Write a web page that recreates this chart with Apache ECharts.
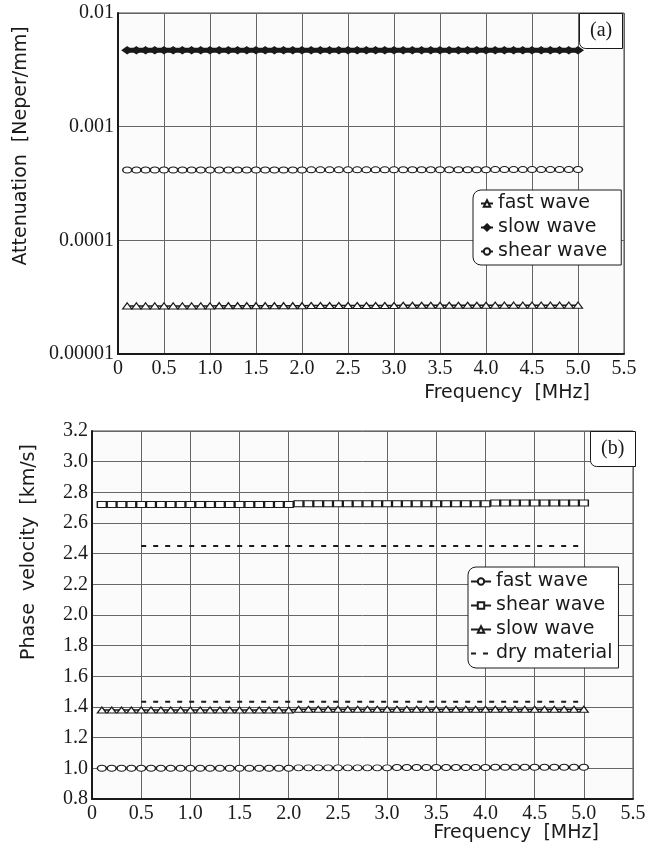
<!DOCTYPE html>
<html>
<head>
<meta charset="utf-8">
<script src="https://cdn.jsdelivr.net/npm/echarts@6/dist/echarts.min.js"></script>
<style>
  html, body { margin: 0; padding: 0; background: #fff; }
  #chart { width: 649px; height: 852px; }
</style>
</head>
<body>
<div id="chart"></div>
<script>
// frequency samples [MHz]
const freq = [0.1, 0.2, 0.3, 0.4, 0.5, 0.6, 0.7, 0.8, 0.9, 1.0,
  1.1, 1.2, 1.3, 1.4, 1.5, 1.6, 1.7, 1.8, 1.9, 2.0,
  2.1, 2.2, 2.3, 2.4, 2.5, 2.6, 2.7, 2.8, 2.9, 3.0,
  3.1, 3.2, 3.3, 3.4, 3.5, 3.6, 3.7, 3.8, 3.9, 4.0,
  4.1, 4.2, 4.3, 4.4, 4.5, 4.6, 4.7, 4.8, 4.9, 5.0]

// (a) attenuation [Neper/mm]
const slowAtt = [0.0047, 0.0047, 0.0047, 0.0047, 0.0047, 0.0047, 0.0047, 0.0047, 0.0047, 0.0047,
  0.0047, 0.0047, 0.0047, 0.0047, 0.0047, 0.0047, 0.0047, 0.0047, 0.0047, 0.0047,
  0.0047, 0.0047, 0.0047, 0.0047, 0.0047, 0.0047, 0.0047, 0.0047, 0.0047, 0.0047,
  0.0047, 0.0047, 0.0047, 0.0047, 0.0047, 0.0047, 0.0047, 0.0047, 0.0047, 0.0047,
  0.0047, 0.0047, 0.0047, 0.0047, 0.0047, 0.0047, 0.0047, 0.0047, 0.0047, 0.0047]
const shearAtt = [0.000415, 0.000415, 0.000415, 0.000415, 0.000415, 0.000415, 0.000415, 0.000415, 0.000415, 0.000415,
  0.000416, 0.000416, 0.000416, 0.000416, 0.000416, 0.000416, 0.000416, 0.000416, 0.000416, 0.000416,
  0.000417, 0.000417, 0.000417, 0.000417, 0.000417, 0.000417, 0.000417, 0.000417, 0.000417, 0.000417,
  0.000418, 0.000418, 0.000418, 0.000418, 0.000418, 0.000418, 0.000418, 0.000418, 0.000418, 0.000418,
  0.000419, 0.000419, 0.000419, 0.000419, 0.000419, 0.000419, 0.000419, 0.000419, 0.000419, 0.00042]
const fastAtt = [0.0000265, 0.0000265, 0.0000265, 0.0000265, 0.0000265, 0.0000265, 0.0000265, 0.0000265, 0.0000265, 0.0000265,
  0.0000266, 0.0000266, 0.0000266, 0.0000266, 0.0000266, 0.0000266, 0.0000266, 0.0000266, 0.0000266, 0.0000266,
  0.0000267, 0.0000267, 0.0000267, 0.0000267, 0.0000267, 0.0000267, 0.0000267, 0.0000267, 0.0000267, 0.0000267,
  0.0000268, 0.0000268, 0.0000268, 0.0000268, 0.0000268, 0.0000268, 0.0000268, 0.0000268, 0.0000268, 0.0000268,
  0.0000269, 0.0000269, 0.0000269, 0.0000269, 0.0000269, 0.0000269, 0.0000269, 0.0000269, 0.0000269, 0.0000269]

// (b) phase velocity [km/s]
const shearVel = [2.72, 2.72, 2.72, 2.72, 2.72, 2.72, 2.72, 2.72, 2.72, 2.72,
  2.72, 2.72, 2.72, 2.72, 2.72, 2.72, 2.72, 2.72, 2.72, 2.72,
  2.725, 2.725, 2.725, 2.725, 2.725, 2.725, 2.725, 2.725, 2.725, 2.725,
  2.725, 2.725, 2.725, 2.725, 2.725, 2.725, 2.725, 2.725, 2.725, 2.725,
  2.73, 2.73, 2.73, 2.73, 2.73, 2.73, 2.73, 2.73, 2.73, 2.73]
const slowVel = [1.38, 1.38, 1.38, 1.38, 1.38, 1.38, 1.38, 1.38, 1.38, 1.38,
  1.38, 1.38, 1.38, 1.38, 1.38, 1.38, 1.38, 1.38, 1.38, 1.38,
  1.385, 1.385, 1.385, 1.385, 1.385, 1.385, 1.385, 1.385, 1.385, 1.385,
  1.385, 1.385, 1.385, 1.385, 1.385, 1.385, 1.385, 1.385, 1.385, 1.385,
  1.385, 1.385, 1.385, 1.385, 1.385, 1.385, 1.385, 1.385, 1.385, 1.385]
const fastVel = [1.0, 1.0, 1.0, 1.0, 1.0, 1.0, 1.0, 1.0, 1.0, 1.0,
  1.0, 1.0, 1.0, 1.0, 1.0, 1.0, 1.0, 1.0, 1.0, 1.0,
  1.003, 1.003, 1.003, 1.003, 1.003, 1.003, 1.003, 1.003, 1.003, 1.003,
  1.005, 1.005, 1.005, 1.005, 1.005, 1.005, 1.005, 1.005, 1.005, 1.005,
  1.007, 1.007, 1.007, 1.007, 1.007, 1.007, 1.007, 1.007, 1.007, 1.007]

// dry material reference lines
const dryFreq = [0.5, 1.0, 1.5, 2.0, 2.5, 3.0, 3.5, 4.0, 4.5, 5.0]
const dryShear = [2.45, 2.45, 2.45, 2.45, 2.45, 2.45, 2.45, 2.45, 2.45, 2.45]
const dryFast = [1.435, 1.435, 1.435, 1.435, 1.435, 1.435, 1.435, 1.435, 1.435, 1.435]

// tick labels
const freqTicks = ["0", "0.5", "1.0", "1.5", "2.0", "2.5", "3.0", "3.5", "4.0", "4.5", "5.0", "5.5"]
const attTicks = ["0.00001", "0.0001", "0.001", "0.01"]
const velTicks = ["0.8", "1.0", "1.2", "1.4", "1.6", "1.8", "2.0", "2.2", "2.4", "2.6", "2.8", "3.0", "3.2"]

const pair = (xs, ys) => xs.map((x, i) => [x, ys[i]])

const ink = "#1a1a1a"
const serif = "Liberation Serif"
const sans = "DejaVu Sans"

const tickStyle = { color: ink, fontFamily: serif, fontSize: 20 }
const gridLine = { show: true, lineStyle: { color: "#666", width: 1 } }

function xAxisFor(gridIndex) {
  return {
    gridIndex,
    type: "value",
    min: 0,
    max: 5.5,
    interval: 0.5,
    axisLine: { show: true, lineStyle: { color: ink, width: 2 } },
    axisTick: { show: false },
    splitLine: gridLine,
    axisLabel: {
      ...tickStyle,
      margin: 5,
      formatter: (v) => freqTicks[Math.round(v / 0.5)],
    },
  }
}

function markerLine(name, data, symbol, size, opts = {}) {
  return {
    name,
    type: "line",
    data,
    symbol,
    symbolSize: size,
    showAllSymbol: true,
    silent: true,
    lineStyle: { color: ink, width: opts.width || 1.5 },
    itemStyle: { color: opts.fill || "#fff", borderColor: ink, borderWidth: 1.2 },
    animation: false,
    ...opts.extra,
  }
}

const boxTitle = {
  padding: [8, 11, 8, 11],
  borderColor: ink,
  borderWidth: 1,
  borderRadius: [0, 0, 0, 6],
  backgroundColor: "#fff",
  textStyle: { color: ink, fontFamily: serif, fontSize: 20, fontWeight: "normal" },
}

const boxLegend = {
  orient: "vertical",
  itemGap: 5,
  itemHeight: 8,
  borderColor: ink,
  borderWidth: 1,
  borderRadius: [8, 0, 0, 8],
  backgroundColor: "#fff",
  textStyle: { color: ink, fontFamily: sans, fontSize: 19 },
}

const option = {
  backgroundColor: "#fff",
  animation: false,
  title: [
    { text: "(a)", left: 579, top: 13, ...boxTitle },
    { text: "(b)", left: 590, top: 431, ...boxTitle },
  ],
  legend: [
    {
      ...boxLegend,
      data: ["fast wave", "slow wave", "shear wave"],
      left: 473,
      top: 190,
      itemWidth: 12,
      padding: [4, 14, 4, 7],
    },
    {
      ...boxLegend,
      data: ["fast wave ", "shear wave ", "slow wave ", { name: "dry material", itemStyle: { opacity: 0 } }],
      left: 468,
      top: 567,
      itemWidth: 20,
      padding: [5, 6, 5, 2],
    },
  ],
  grid: [
    { left: 118, top: 13, width: 506, height: 341, show: true, backgroundColor: "#fbfbfb", borderColor: "#444", borderWidth: 1 },
    { left: 92, top: 431, width: 541, height: 368, show: true, backgroundColor: "#fbfbfb", borderColor: "#444", borderWidth: 1 },
  ],
  xAxis: [xAxisFor(0), xAxisFor(1)],
  yAxis: [
    {
      gridIndex: 0,
      type: "log",
      logBase: 10,
      min: 0.00001,
      max: 0.01,
      axisLine: { show: true, lineStyle: { color: ink, width: 2 } },
      axisTick: { show: false },
      splitLine: gridLine,
      minorSplitLine: { show: false },
      axisLabel: {
        ...tickStyle,
        margin: 4,
        formatter: (v) => attTicks[Math.round(Math.log10(v)) + 5],
      },
    },
    {
      gridIndex: 1,
      type: "value",
      min: 0.8,
      max: 3.2,
      interval: 0.2,
      axisLine: { show: true, lineStyle: { color: ink, width: 2 } },
      axisTick: { show: false },
      splitLine: gridLine,
      axisLabel: {
        ...tickStyle,
        margin: 4,
        formatter: (v) => velTicks[Math.round((v - 0.8) / 0.2)],
      },
    },
  ],
  graphic: [
    {
      type: "text",
      x: 21,
      y: 146,
      rotation: Math.PI / 2,
      style: { text: "Attenuation  [Neper/mm]", fill: ink, font: "19px 'DejaVu Sans'", align: "center", verticalAlign: "middle" },
    },
    {
      type: "text",
      x: 29,
      y: 552,
      rotation: Math.PI / 2,
      style: { text: "Phase  velocity  [km/s]", fill: ink, font: "19px 'DejaVu Sans'", align: "center", verticalAlign: "middle" },
    },
    {
      type: "text",
      x: 507,
      y: 393,
      style: { text: "Frequency  [MHz]", fill: ink, font: "19px 'DejaVu Sans'", align: "center", verticalAlign: "middle" },
    },
    {
      type: "text",
      x: 516,
      y: 833,
      style: { text: "Frequency  [MHz]", fill: ink, font: "19px 'DejaVu Sans'", align: "center", verticalAlign: "middle" },
    },
  ],
  series: [
    // (a)
    markerLine("fast wave", pair(freq, fastAtt), "triangle", [9, 6], { extra: { xAxisIndex: 0, yAxisIndex: 0 } }),
    markerLine("slow wave", pair(freq, slowAtt), "diamond", [10, 7], { fill: ink, width: 5, extra: { xAxisIndex: 0, yAxisIndex: 0 } }),
    markerLine("shear wave", pair(freq, shearAtt), "circle", [9, 6], { extra: { xAxisIndex: 0, yAxisIndex: 0 } }),
    // (b)
    markerLine("fast wave ", pair(freq, fastVel), "circle", [9, 6], { extra: { xAxisIndex: 1, yAxisIndex: 1 } }),
    markerLine("shear wave ", pair(freq, shearVel), "rect", [9, 6], { extra: { xAxisIndex: 1, yAxisIndex: 1 } }),
    markerLine("slow wave ", pair(freq, slowVel), "triangle", [9, 6], { extra: { xAxisIndex: 1, yAxisIndex: 1 } }),
    {
      name: "dry material",
      type: "line",
      xAxisIndex: 1,
      yAxisIndex: 1,
      data: pair(dryFreq, dryShear),
      symbol: "none",
      silent: true,
      lineStyle: { color: ink, width: 2, type: [5, 7] },
      itemStyle: { color: ink },
    },
    {
      name: "dry material",
      type: "line",
      xAxisIndex: 1,
      yAxisIndex: 1,
      data: pair(dryFreq, dryFast),
      symbol: "none",
      silent: true,
      lineStyle: { color: ink, width: 2, type: [5, 7] },
      itemStyle: { color: ink },
    },
  ],
}

const chart = echarts.init(document.getElementById("chart"))
chart.setOption(option)
</script>
</body>
</html>
